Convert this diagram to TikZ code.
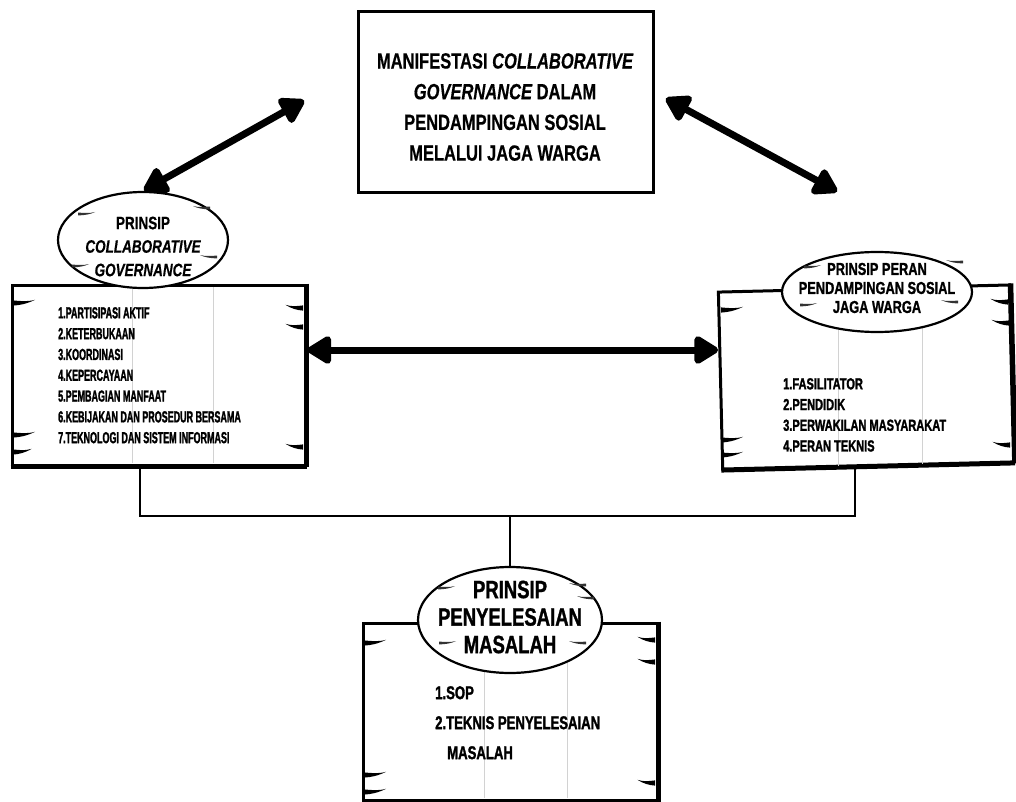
\documentclass[tikz,border=0pt]{standalone}
\usepackage{fontspec}
\setmainfont{Liberation Sans}
\newfontfamily\headfont[FakeStretch=0.75,FakeBold=0.5]{Liberation Sans Bold}
\newfontfamily\headfontit[FakeStretch=0.75,FakeBold=0.5]{Liberation Sans Bold Italic}
\newfontfamily\rhfont[FakeStretch=0.74,FakeBold=1.2]{Liberation Sans Bold}
\newfontfamily\listA[FakeStretch=0.56,FakeBold=1.5]{Liberation Sans Bold}
\newfontfamily\listB[FakeStretch=0.69,FakeBold=1.5]{Liberation Sans Bold}
\newfontfamily\listC[FakeStretch=0.71,FakeBold=1.5]{Liberation Sans Bold}
\usetikzlibrary{shapes.geometric,arrows.meta}
\tikzset{
  box/.style={draw, line width=3pt, fill=white, inner sep=0pt},
  oval/.style={ellipse, draw, line width=2.2pt, fill=white, inner sep=0pt},
  faint/.style={draw=gray!35, line width=0.6pt},
  conn/.style={line width=2.6pt},
  dbl/.style={line width=7pt, {Triangle[length=27pt,width=31pt,round]}-{Triangle[length=27pt,width=31pt,round]}, shorten <=1pt, shorten >=1pt},
  titletxt/.style={font=\headfont\fontsize{22}{30.7}\selectfont, align=center, inner sep=0pt},
  listtxt/.style={align=left, inner sep=0pt, anchor=north west},
  tick/.pic={\fill[black] (0,-2.6) .. controls (7,-2) and (14,-1) .. (22,-3.2) .. controls (14,0.8) and (7,2.2) .. (0,2.6) -- cycle;},
  wisp/.pic={\fill[black!80] (0,-1.4) .. controls (6,-1.1) and (12,-0.5) .. (17,-2) .. controls (12,0.5) and (6,1.3) .. (0,1.4) -- cycle;}
}
\begin{document}
\begin{tikzpicture}[x=1pt,y=-1pt]
\useasboundingbox (0,0) rectangle (1016,802);
\fill[white] (0,0) rectangle (1016,802);

% title box
\node[box, minimum width=295pt, minimum height=181pt] (tb) at (505.5,102.5) {};
\node[titletxt] (tt) at (505,107) {MANIFESTASI {\headfontit COLLABORATIVE}\\{\headfontit GOVERNANCE} DALAM\\PENDAMPINGAN SOSIAL\\MELALUI JAGA WARGA};

% boxes
\node[box, minimum width=293pt, minimum height=180pt] (lb) at (158.5,375) {};
\node[box, minimum width=291pt, minimum height=177pt, rotate=1.4] (rb) at (866,377) {};
\node[box, minimum width=294pt, minimum height=177pt] (bb) at (510,711.5) {};
\draw[line width=5pt] (lb.north east) -- (lb.south east);
\draw[line width=5pt] (rb.north east) -- (rb.south east);
\draw[line width=5pt] (bb.north east) -- (bb.south east);
\draw[line width=4pt] (lb.south west) -- (lb.south east);
\draw[line width=4pt] (rb.south west) -- (rb.south east);

% faint vertical lines
\draw[faint] (132,287) -- (132,463);
\draw[faint] (213,287) -- (213,463);
\draw[faint] (838,292) -- (838,466);
\draw[faint] (922,290) -- (922,464);
\draw[faint] (484,625) -- (484,798);
\draw[faint] (567,625) -- (567,798);

% box ticks
\pic at (13,303) {tick};
\pic at (13,435) {tick};
\pic[xscale=0.85] at (13,452) {tick};
\pic[xscale=-0.8] at (303,308) {tick};
\pic[xscale=-0.8] at (303,327) {tick};
\pic[xscale=-0.8] at (303,447) {tick};
\pic at (721,310) {tick};
\pic at (721,440) {tick};
\pic at (721,455) {tick};
\pic[xscale=-0.8] at (1008,302) {tick};
\pic[xscale=-0.8] at (1009,323) {tick};
\pic[xscale=-0.8] at (1010,445) {tick};
\pic at (364,643) {tick};
\pic at (364,775) {tick};
\pic at (364,792) {tick};
\pic[xscale=-0.8] at (655,640) {tick};
\pic[xscale=-0.8] at (655,662) {tick};
\pic[xscale=-0.8] at (655,783) {tick};

% ellipses
\node[oval, minimum width=170pt, minimum height=96pt] (le) at (143,240) {};
\node[oval, minimum width=190pt, minimum height=80pt] (re) at (877,292) {};
\node[oval, minimum width=184pt, minimum height=106pt] (be) at (510,620) {};

% ellipse wisps
\pic at (78,214) {wisp};
\pic[xscale=-1] at (210,208) {wisp};
\pic[xscale=-1] at (217,257) {wisp};
\pic at (72,266) {wisp};
\pic at (804,267) {wisp};
\pic[xscale=-1] at (963,262) {wisp};
\pic at (800,305) {wisp};
\pic[xscale=-1] at (958,302) {wisp};
\pic at (438,588) {wisp};
\pic[xscale=-1] at (586,585) {wisp};
\pic[xscale=-1] at (594,598) {wisp};
\pic at (439,643) {wisp};
\pic[xscale=-1] at (586,643) {wisp};

% headings
\node[font=\headfont\fontsize{18}{23.5}\selectfont, align=center, inner sep=0pt] (lt) at (143,246.5) {PRINSIP\\{\headfontit COLLABORATIVE}\\{\headfontit GOVERNANCE}};
\node[font=\rhfont\fontsize{17.3}{19}\selectfont, align=center, inner sep=0pt] (rt) at (877,288) {PRINSIP PERAN\\PENDAMPINGAN SOSIAL\\JAGA WARGA};
\node[font=\rhfont\fontsize{25}{27.5}\selectfont, align=center, inner sep=0pt] (bt) at (510,617) {PRINSIP\\PENYELESAIAN\\MASALAH};

% lists
\node[listtxt, font=\listA\fontsize{16}{20.8}\selectfont] (ll) at (58,307) {1.PARTISIPASI AKTIF\\2.KETERBUKAAN\\3.KOORDINASI\\4.KEPERCAYAAN\\5.PEMBAGIAN MANFAAT\\6.KEBIJAKAN DAN PROSEDUR BERSAMA\\7.TEKNOLOGI DAN SISTEM INFORMASI};
\node[listtxt, font=\listB\fontsize{16}{20.7}\selectfont] (rl) at (783,378) {1.FASILITATOR\\2.PENDIDIK\\3.PERWAKILAN MASYARAKAT\\4.PERAN TEKNIS};
\node[listtxt, font=\listC\fontsize{18.5}{30}\selectfont] (bl) at (435,686) {1.SOP\\2.TEKNIS PENYELESAIAN\\\hspace*{12pt}MASALAH};

% arrows
\coordinate (al) at (305,100);
\coordinate (ar1) at (665,98);
\coordinate (ar2) at (838,192);
\coordinate (hy) at (0,350);
\draw[dbl] (al) -- (le.north);
\draw[dbl] (ar1) -- (ar2);
\draw[dbl] (lb.east |- hy) -- (rb.west |- hy);

% connectors
\coordinate (jl) at (140,516);
\coordinate (jr) at (855,516);
\draw[conn] (lb.south -| jl) -- (jl) -- (jr) -- (rb.south -| jr);
\draw[line width=2pt] (be.north |- jl) -- (be.north);
\end{tikzpicture}
\end{document}
